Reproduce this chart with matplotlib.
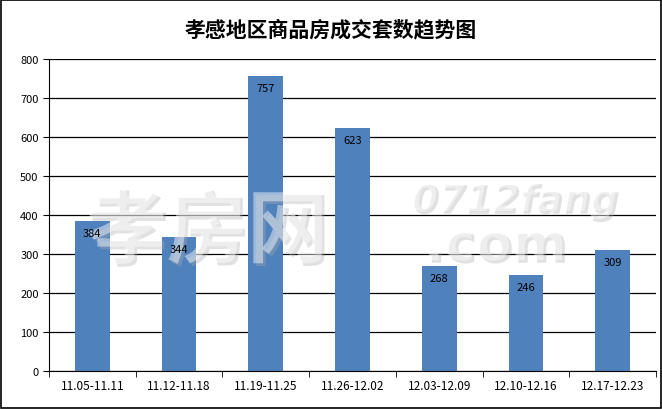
import matplotlib.pyplot as plt
import matplotlib.patheffects as pe
import numpy as np

plt.rcParams['font.family'] = ['Noto Sans CJK SC', 'DejaVu Sans']

# weekly periods and number of sold units
weeks = ['11.05-11.11', '11.12-11.18', '11.19-11.25', '11.26-12.02',
         '12.03-12.09', '12.10-12.16', '12.17-12.23']
units = [384, 344, 757, 623, 268, 246, 309]
y_ticks = [0, 100, 200, 300, 400, 500, 600, 700, 800]

fig = plt.figure(figsize=(6.62, 4.10), dpi=100)
ax = fig.add_axes([0.074, 0.093, 0.917, 0.761])

x = np.arange(len(weeks))
ax.bar(x, units, width=0.4, color='#4F81BD', zorder=2)

# value labels just under the top of each bar
for xi, v in zip(x, units):
    ax.annotate(str(v), (xi, v), xytext=(0, -5), textcoords='offset points',
                ha='center', va='top', fontsize=8, color='black', zorder=6)

ax.set_ylim(0, 800)
ax.set_xlim(-0.5, len(weeks) - 0.5)
ax.set_yticks(y_ticks)
ax.set_yticklabels([str(t) for t in y_ticks], fontsize=8)
ax.yaxis.grid(True, color='black', linewidth=0.9, zorder=0)
ax.set_axisbelow(True)

# category labels centred, tick marks between categories
ax.set_xticks(x)
ax.set_xticklabels(weeks, fontsize=8.5)
ax.tick_params(axis='x', length=0, pad=6)
ax.set_xticks(np.arange(-0.5, len(weeks)), minor=True)
ax.tick_params(axis='x', which='minor', length=4, direction='out')
ax.tick_params(axis='y', length=4, direction='out')

for s in ['top', 'right']:
    ax.spines[s].set_visible(False)
ax.spines['left'].set_color('black')
ax.spines['bottom'].set_color('black')

fig.text(0.5, 0.927, '孝感地区商品房成交套数趋势图', ha='center', va='center',
         fontsize=15, fontweight='bold')

# site watermark, kept under the value labels
shadow = [pe.withSimplePatchShadow(offset=(2, -2), shadow_rgbFace='#aaaaaa', alpha=0.35)]
wm = dict(color='white', alpha=0.45, va='center', ha='left', transform=fig.transFigure,
          clip_on=False, zorder=4, path_effects=shadow, fontweight='bold')
ax.text(0.13, 0.43, '孝房网', fontsize=58, **wm)
ax.text(0.62, 0.51, '0712fang', fontsize=28, fontstyle='italic', family='DejaVu Sans', **wm)
ax.text(0.64, 0.40, '.com', fontsize=38, family='DejaVu Sans', **wm)

# outer frame
fig.patches.append(plt.Rectangle((0.002, 0.002), 0.996, 0.996, transform=fig.transFigure,
                                 fill=False, edgecolor='black', linewidth=1.2))

fig.savefig('out.png', dpi=100)
